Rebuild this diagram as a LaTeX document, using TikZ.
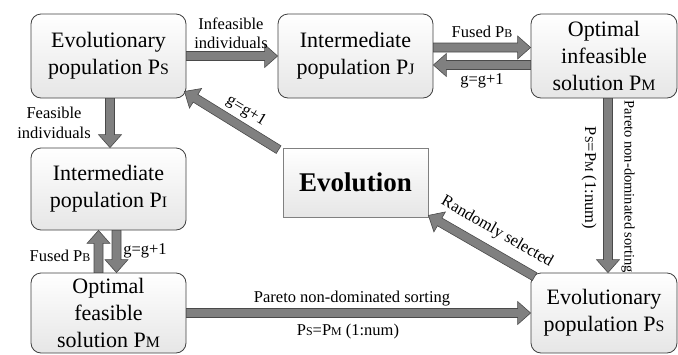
\documentclass[tikz,border=0pt]{standalone}
\usepackage{fontspec}
\setmainfont{Liberation Serif}
\usetikzlibrary{calc}
\definecolor{boxline}{HTML}{404040}
\definecolor{boxfill}{HTML}{E6E6E6}
\definecolor{arrfill}{HTML}{808080}
\definecolor{arrline}{HTML}{4A4A4A}
\newcommand\sm[1]{\scalebox{0.72}{#1}}
\tikzset{
  box/.style={draw=boxline, rounded corners=10pt, line width=0.8pt,
    minimum width=155pt, minimum height=84pt, inner sep=0pt, align=center,
    font=\fontsize{22}{27}\selectfont, top color=white, bottom color=boxfill},
  fat/.style={fill=arrfill, draw=arrline, line width=0.6pt, line join=miter},
  lab/.style={font=\fontsize{16.5}{19.5}\selectfont, align=center, inner sep=1pt},
}
\newcommand\fatarrow[2]{%
  \draw[fat] let \p1=#1, \p2=#2,
    \n1={atan2(\y2-\y1,\x2-\x1)}, \n2={veclen(\x2-\x1,\y2-\y1)} in
    [shift={(\p1)},rotate=\n1]
    (0pt,-4.5pt) -- ({\n2*1pt-13pt},-4.5pt) -- ({\n2*1pt-13pt},-11.5pt)
    -- ({\n2*1pt},0pt) -- ({\n2*1pt-13pt},11.5pt) -- ({\n2*1pt-13pt},4.5pt)
    -- (0pt,4.5pt) -- cycle;}
\begin{document}
\begin{tikzpicture}[x=1pt,y=-1pt]
\useasboundingbox (0,0) rectangle (678,354);
% nodes
\node[box] (A) at (108.5,56) {Evolutionary\\population P\sm{S}};
\node[box] (B) at (355.5,56) {Intermediate\\population P\sm{J}};
\node[box, minimum width=146pt] (C) at (604,56) {Optimal\\infeasible\\solution P\sm{M}};
\node[box, minimum height=82pt] (D) at (108.5,189) {Intermediate\\population P\sm{I}};
\node[box, minimum height=80pt] (E) at (108.5,313) {Optimal\\feasible\\solution P\sm{M}};
\node[box, rounded corners=0pt, draw=gray, minimum width=145pt, minimum height=69pt,
      font=\fontsize{27}{32}\selectfont\bfseries] (F) at (355.5,182.5) {Evolution};
\node[box, minimum width=146pt, minimum height=80pt] (G) at (604,313) {Evolutionary\\population P\sm{S}};
% arrows
\fatarrow{(A.east)}{(B.west)}
\fatarrow{([yshift=8.5pt]B.east)}{([yshift=8.5pt]C.west)}
\fatarrow{([yshift=-9pt]C.west)}{([yshift=-9pt]B.east)}
\fatarrow{([xshift=1.5pt]A.south)}{([xshift=1.5pt]D.north)}
\fatarrow{([xshift=-10pt]E.north)}{([xshift=-10pt]D.south)}
\fatarrow{([xshift=8pt]D.south)}{([xshift=8pt]E.north)}
\fatarrow{(E.east)}{(G.west)}
\fatarrow{([xshift=4pt]C.south)}{([xshift=4pt]G.north)}
\fatarrow{([shift={(-4pt,-2pt)}]F.north west)}{([shift={(-2pt,7pt)}]A.south east)}
\fatarrow{([shift={(4pt,-4pt)}]G.north west)}{([shift={(0pt,2pt)}]F.south east)}
% labels
\node[lab] (l1) at (231,33.5) {Infeasible\\individuals};
\node[lab] (l2) at (482,32) {Fused P\sm{B}};
\node[lab] (l3) at (482,81) {g=g+1};
\node[lab] (l4) at (54,123) {Feasible\\individuals};
\node[lab] (l5) at (60,256) {Fused P\sm{B}};
\node[lab] (l6) at (145,251) {g=g+1};
\node[lab] (l7) at (352,299) {Pareto non-dominated sorting};
\node[lab] (l8) at (348,332) {P\sm{S}=P\sm{M} (1:num)};
\node[lab, rotate=-90, font=\fontsize{14.5}{17}\selectfont] (l9) at (628,187) {Pareto non-dominated sorting};
\node[lab, rotate=-90] (l10) at (589,178) {P\sm{S}=P\sm{M} (1:num)};
\node[lab, rotate=-31] (l11) at (246,111) {g=g+1};
\node[lab, rotate=-30] (l12) at (497,232) {Randomly selected};
\end{tikzpicture}
\end{document}
